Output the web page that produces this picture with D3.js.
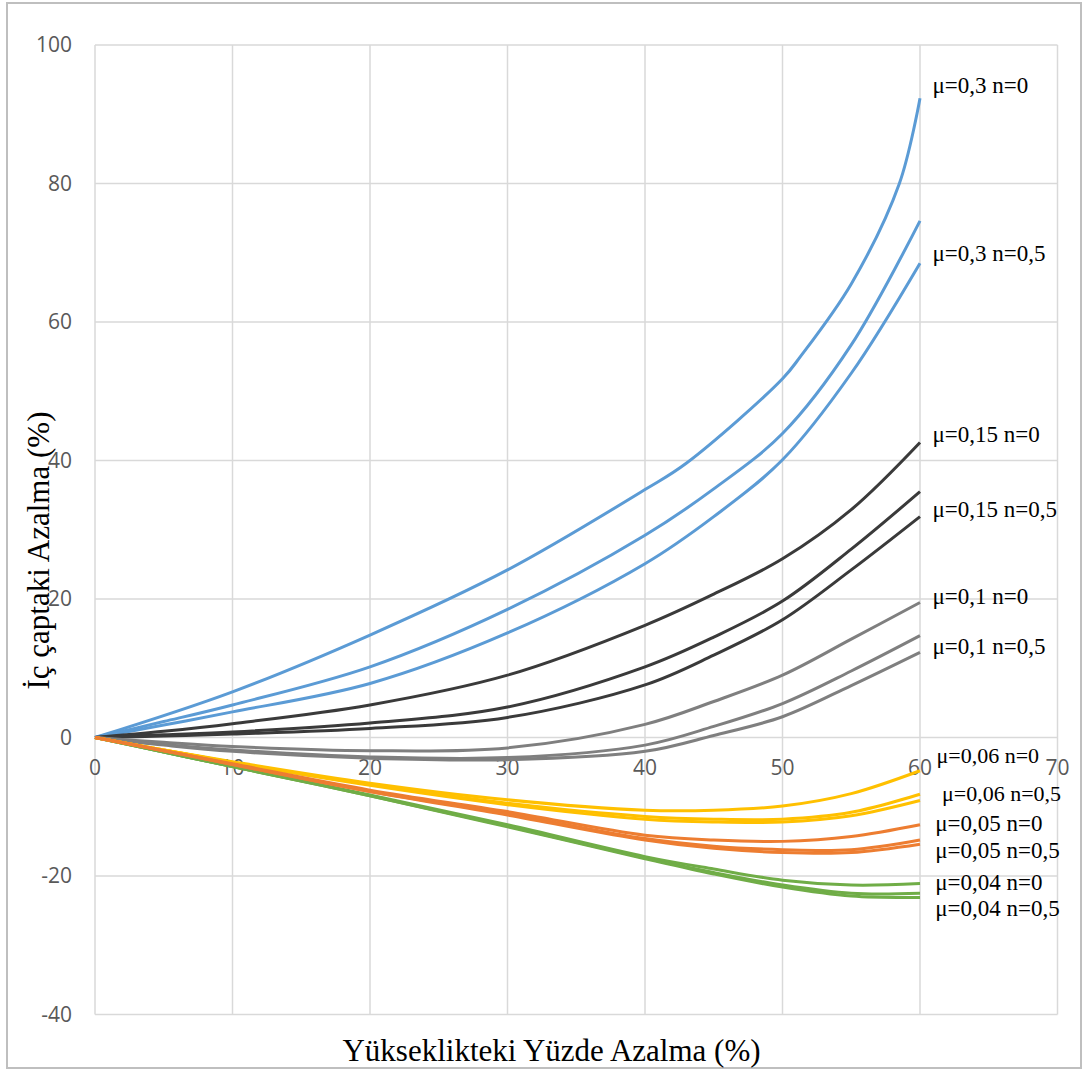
<!DOCTYPE html>
<html lang="tr">
<head>
<meta charset="UTF-8">
<title>İç çaptaki Azalma</title>
<script src="https://cdn.jsdelivr.net/npm/d3@7"></script>
<style>
  body { margin: 0; background: #fff; }
  .tick-label { font-family: "Open Sans", sans-serif; font-size: 21px; fill: #595959; }
  .serif { font-family: "Liberation Serif", "Times New Roman", serif; fill: #000; }
</style>
</head>
<body>
<div id="chart"></div>
<script>
// x values (Yükseklikteki Yüzde Azalma, %)
const xStd = [0, 5, 10, 20, 30, 40, 45, 50, 55, 60];
const xB1  = [0, 10, 20, 30, 40, 43, 50, 51.3, 55, 58.5, 60];

// İç çaptaki Azalma (%)
const mu03a  = [0, 6.6, 14.8, 24.2, 35.8, 39.6, 51.8, 55, 65.5, 80, 92.3];
const mu03b  = [0, 2.3, 4.7, 10.2, 18.5, 29.2, 35.9, 43.9, 56.7, 74.6];
const mu03c  = [0, 1.8, 3.7, 7.8, 15.1, 25.1, 31.9, 40.1, 52.6, 68.5];
const mu015a = [0, 0.9, 2.0, 4.7, 9.0, 16.2, 20.7, 25.8, 32.9, 42.6];
const mu015b = [0, 0.4, 0.8, 2.1, 4.4, 10.2, 14.5, 19.7, 27.2, 35.5];
const mu015c = [0, 0.2, 0.5, 1.3, 2.9, 7.6, 11.9, 17.0, 24.2, 31.9];
const mu01a  = [0, -0.7, -1.3, -1.9, -1.5, 1.9, 5.2, 9.0, 14.2, 19.5];
const mu01b  = [0, -1.0, -1.8, -2.8, -2.9, -1.1, 1.6, 4.9, 9.6, 14.7];
const mu01c  = [0, -1.1, -2.0, -3.0, -3.2, -2.0, 0.3, 3.0, 7.5, 12.3];
const mu006a = [0, -1.8, -3.5, -6.6, -9.0, -10.5, -10.5, -9.9, -8.1, -4.8];
const mu006b = [0, -1.8, -3.6, -6.8, -9.5, -11.4, -11.8, -11.8, -10.8, -8.2];
const mu006c = [0, -1.8, -3.6, -6.9, -9.7, -11.8, -12.2, -12.2, -11.3, -9.1];
const mu005a = [0, -1.9, -3.8, -7.6, -10.7, -14.1, -14.8, -15.0, -14.3, -12.6];
const mu005b = [0, -1.9, -3.9, -7.8, -11.0, -14.6, -15.7, -16.2, -16.2, -14.8];
const mu005c = [0, -1.9, -3.9, -7.8, -11.2, -14.8, -16.0, -16.6, -16.6, -15.4];
const mu004a = [0, -2.1, -4.2, -8.3, -12.6, -17.2, -19.0, -20.6, -21.3, -21.1];
const mu004b = [0, -2.1, -4.2, -8.4, -12.8, -17.4, -19.5, -21.3, -22.5, -22.5];
const mu004c = [0, -2.1, -4.2, -8.4, -12.9, -17.5, -19.7, -21.6, -22.9, -23.1];

const xTicks = [0, 10, 20, 30, 40, 50, 60, 70];
const yTicks = [-40, -20, 0, 20, 40, 60, 80, 100];

// annotation texts and where they sit (data units)
const labelText = ["μ=0,3 n=0", "μ=0,3 n=0,5", "μ=0,15 n=0", "μ=0,15 n=0,5", "μ=0,1 n=0", "μ=0,1 n=0,5",
                   "μ=0,06 n=0", "μ=0,06 n=0,5", "μ=0,05 n=0", "μ=0,05 n=0,5", "μ=0,04 n=0", "μ=0,04 n=0,5"];
const labelX = [60.9, 60.9, 60.9, 60.9, 60.9, 60.9, 61.2, 61.6, 61.1, 61.1, 61.1, 61.1];
const labelY = [94.2, 70.0, 43.8, 33.0, 20.4, 13.2, -2.6, -8.1, -12.4, -16.2, -20.8, -24.6];
const labelSize = [23, 23, 23, 23, 23, 23, 22, 22, 23, 23, 23, 23];

const colors = { blue: "#5b9bd5", black: "#3a3a3a", gray: "#7f7f7f", yellow: "#ffc000", orange: "#ed7d31", green: "#70ad47" };

const series = [
  { xs: xB1,  ys: mu03a,  c: colors.blue },
  { xs: xStd, ys: mu03b,  c: colors.blue },
  { xs: xStd, ys: mu03c,  c: colors.blue },
  { xs: xStd, ys: mu015a, c: colors.black },
  { xs: xStd, ys: mu015b, c: colors.black },
  { xs: xStd, ys: mu015c, c: colors.black },
  { xs: xStd, ys: mu01a,  c: colors.gray },
  { xs: xStd, ys: mu01b,  c: colors.gray },
  { xs: xStd, ys: mu01c,  c: colors.gray },
  { xs: xStd, ys: mu004a, c: colors.green },
  { xs: xStd, ys: mu004b, c: colors.green },
  { xs: xStd, ys: mu004c, c: colors.green },
  { xs: xStd, ys: mu006a, c: colors.yellow },
  { xs: xStd, ys: mu006b, c: colors.yellow },
  { xs: xStd, ys: mu006c, c: colors.yellow },
  { xs: xStd, ys: mu005a, c: colors.orange },
  { xs: xStd, ys: mu005b, c: colors.orange },
  { xs: xStd, ys: mu005c, c: colors.orange }
];

const width = 1084, height = 1073;
const x = d3.scaleLinear().domain([0, 70]).range([95, 1057.5]);
const y = d3.scaleLinear().domain([-40, 100]).range([1014.5, 45]);

const svg = d3.select("#chart").append("svg")
  .attr("width", width)
  .attr("height", height);

// outer frame
svg.append("rect")
  .attr("x", 7).attr("y", 3)
  .attr("width", 1074).attr("height", 1065)
  .attr("fill", "none").attr("stroke", "#bfbfbf").attr("stroke-width", 2);

// grid
const grid = svg.append("g").attr("stroke", "#d9d9d9").attr("stroke-width", 1.5);
grid.selectAll(".vg").data(xTicks).join("line")
  .attr("x1", d => x(d)).attr("x2", d => x(d))
  .attr("y1", y(-40)).attr("y2", y(100));
grid.selectAll(".hg").data(yTicks).join("line")
  .attr("x1", x(0)).attr("x2", x(70))
  .attr("y1", d => y(d)).attr("y2", d => y(d));

// tick labels
svg.append("g").selectAll("text").data(yTicks).join("text")
  .attr("class", "tick-label")
  .attr("x", x(0) - 23)
  .attr("y", d => y(d))
  .attr("dy", "0.35em")
  .attr("text-anchor", "end")
  .text(d => d);

svg.append("g").selectAll("text").data(xTicks).join("text")
  .attr("class", "tick-label")
  .attr("x", d => x(d))
  .attr("y", y(0) + 30)
  .attr("dy", "0.35em")
  .attr("text-anchor", "middle")
  .text(d => d);

// lines
const line = d3.line().curve(d3.curveCatmullRom.alpha(0.5));
svg.append("g").selectAll("path").data(series).join("path")
  .attr("fill", "none")
  .attr("stroke", d => d.c)
  .attr("stroke-width", 3)
  .attr("stroke-linejoin", "round")
  .attr("d", d => line(d.xs.map((v, i) => [x(v), y(d.ys[i])])));

// series annotations
svg.append("g").selectAll("text").data(labelText).join("text")
  .attr("class", "serif")
  .attr("font-size", (d, i) => labelSize[i])
  .attr("x", (d, i) => x(labelX[i]))
  .attr("y", (d, i) => y(labelY[i]))
  .attr("dy", "0.35em")
  .text(d => d);

// axis titles
svg.append("text")
  .attr("class", "serif")
  .attr("font-size", 31)
  .attr("x", x(33.2))
  .attr("y", 1050)
  .attr("dy", "0.35em")
  .attr("text-anchor", "middle")
  .text("Yükseklikteki Yüzde Azalma (%)");

svg.append("text")
  .attr("class", "serif")
  .attr("font-size", 31)
  .attr("transform", `translate(38,${y(27)}) rotate(-90)`)
  .attr("dy", "0.35em")
  .attr("text-anchor", "middle")
  .text("İç çaptaki Azalma (%)");
</script>
</body>
</html>
